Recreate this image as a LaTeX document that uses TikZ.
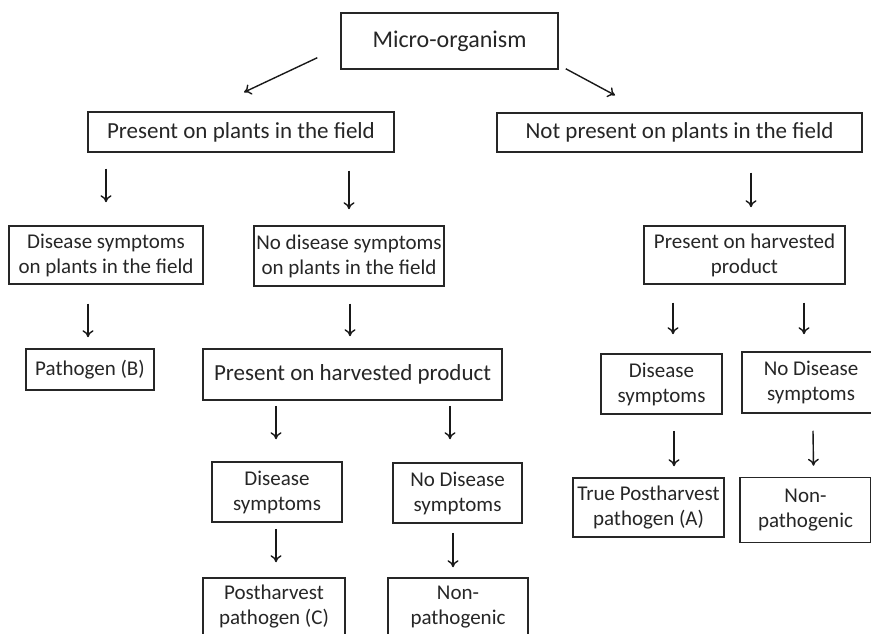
\documentclass[tikz,border=0pt]{standalone}
\usepackage{fontspec}
\setmainfont{Carlito}
\usetikzlibrary{arrows.meta}
\begin{document}
\begin{tikzpicture}[x=1pt,y=1pt,
  box/.style={draw=black!85, line width=1.5pt, inner sep=0pt, align=center, text=black!85},
  big/.style={font=\fontsize{23}{28}\selectfont},
  small/.style={font=\fontsize{21}{25}\selectfont},
  arr/.style={line width=1.4pt, draw=black!90, -{To[length=7pt,width=11pt]}}]
\useasboundingbox (0,0) rectangle (871,633);
\fill[white] (0,0) rectangle (871,633);
\clip (0,0) rectangle (871,633);
% boxes
\node[box,minimum width=217pt,minimum height=56pt,font=\fontsize{24}{29}\selectfont] (micro) at (449.5,592) {Micro-organism};
\node[box,big,minimum width=306pt,minimum height=40pt] (pres) at (241,501) {Present on plants in the field};
\node[box,big,minimum width=365pt,minimum height=39pt] (notp) at (679.5,500.5) {Not present on plants in the field};
\node[box,small,minimum width=194pt,minimum height=58pt] (dsf) at (106,378) {Disease symptoms\\on plants in the field};
\node[box,small,minimum width=190pt,minimum height=60pt] (ndsf) at (349,377) {No disease symptoms\\on plants in the field};
\node[box,small,minimum width=128pt,minimum height=41pt] (pathB) at (90,263.5) {Pathogen (B)};
\node[box,big,minimum width=299pt,minimum height=51pt] (phpL) at (352.5,258.5) {Present on harvested product};
\node[box,small,minimum width=130pt,minimum height=60pt] (dsL) at (277,141) {Disease\\symptoms};
\node[box,small,minimum width=129pt,minimum height=60pt] (ndsL) at (457.5,140) {No Disease\\symptoms};
\node[box,small,minimum width=142pt,minimum height=58pt] (phC) at (274,26) {Postharvest\\pathogen (C)};
\node[box,small,minimum width=140pt,minimum height=58pt] (npL) at (458,26) {Non-\\pathogenic};
\node[box,small,minimum width=201pt,minimum height=58pt] (phpR) at (744.5,378) {Present on harvested\\product};
\node[box,small,minimum width=121pt,minimum height=60pt] (dsR) at (661.5,249) {Disease\\symptoms};
\node[box,small,minimum width=138pt,minimum height=61pt] (ndsR) at (811,250.5) {No Disease\\symptoms};
\node[box,small,minimum width=151pt,minimum height=59pt] (phA) at (648.5,125.5) {True Postharvest\\pathogen (A)};
\node[box,small,minimum width=131pt,minimum height=65pt] (npR) at (805.5,123) {Non-\\pathogenic};
% arrows
\draw[arr] ([xshift=-23pt,yshift=12pt]micro.south west) -- ([xshift=3pt,yshift=19pt]pres.north);
\draw[arr] ([xshift=7pt,yshift=1pt]micro.south east) -- ([xshift=-64.5pt,yshift=17pt]notp.north);
\draw[arr] ([xshift=-135pt,yshift=-16pt]pres.south) -- ([yshift=23pt]dsf.north);
\draw[arr] ([xshift=108pt,yshift=-18pt]pres.south) -- ([yshift=16pt]ndsf.north);
\draw[arr] ([xshift=71.5pt,yshift=-20pt]notp.south) -- ([xshift=6.5pt,yshift=18pt]phpR.north);
\draw[arr] ([xshift=-18pt,yshift=-19pt]dsf.south) -- ([xshift=-2pt,yshift=11pt]pathB.north);
\draw[arr] ([xshift=1pt,yshift=-17pt]ndsf.south) -- ([xshift=-2.5pt,yshift=12pt]phpL.north);
\draw[arr] ([xshift=-76.5pt,yshift=-5pt]phpL.south) -- ([xshift=-1pt,yshift=22pt]dsL.north);
\draw[arr] ([xshift=97.5pt,yshift=-5pt]phpL.south) -- ([xshift=-7.5pt,yshift=23pt]ndsL.north);
\draw[arr] ([xshift=-1pt,yshift=-6pt]dsL.south) -- ([xshift=2pt,yshift=15pt]phC.north);
\draw[arr] ([xshift=-4.5pt,yshift=-9pt]ndsL.south) -- ([xshift=-5pt,yshift=10pt]npL.north);
\draw[arr] ([xshift=-71.5pt,yshift=-18pt]phpR.south) -- ([xshift=11.5pt,yshift=19pt]dsR.north);
\draw[arr] ([xshift=59.5pt,yshift=-18pt]phpR.south) -- ([xshift=-7pt,yshift=17pt]ndsR.north);
\draw[arr] ([xshift=12.5pt,yshift=-16pt]dsR.south) -- ([xshift=25.5pt,yshift=11pt]phA.north);
\draw[arr] ([xshift=2pt,yshift=-17pt]ndsR.south) -- ([xshift=8pt,yshift=11pt]npR.north);
\end{tikzpicture}
\end{document}
